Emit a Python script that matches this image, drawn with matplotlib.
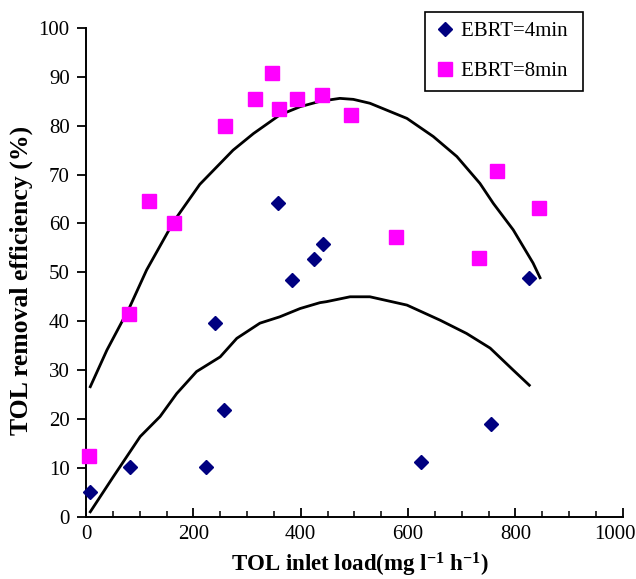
import matplotlib
matplotlib.use("Agg")
import matplotlib.pyplot as plt
from matplotlib.ticker import MultipleLocator
from matplotlib.transforms import ScaledTranslation

plt.rcParams['font.family'] = ['Liberation Serif', 'DejaVu Serif']
plt.rcParams['mathtext.fontset'] = 'custom'
plt.rcParams['mathtext.rm'] = 'Liberation Serif:bold'
plt.rcParams['mathtext.bf'] = 'Liberation Serif:bold'
plt.rcParams['mathtext.default'] = 'bf'

# --- data: EBRT = 4 min (diamonds) ---
load_4 = [8, 82, 224, 240, 257, 358, 383, 425, 441, 625, 754, 825]
eff_4 = [5.0, 10.2, 10.2, 39.7, 21.8, 64.2, 48.4, 52.7, 55.7, 11.1, 18.9, 48.8]

# --- data: EBRT = 8 min (squares) ---
load_8 = [6, 81, 118, 164, 259, 314, 347, 360, 394, 440, 494, 578, 732, 765, 844]
eff_8 = [12.4, 41.4, 64.6, 60.2, 80.0, 85.4, 90.7, 83.4, 85.4, 86.3, 82.1, 57.3, 53.0, 70.8, 63.1]

# --- trend curves ---
trend8_x = [8, 39, 81, 113, 164, 212, 274, 312, 361, 399, 436, 473, 498, 529,
            598, 647, 691, 734, 759, 796, 833, 846]
trend8_y = [26.6, 34.1, 42.8, 50.5, 60.5, 68.0, 75.0, 78.4, 82.2, 83.9, 85.0, 85.6,
            85.4, 84.6, 81.5, 77.8, 73.7, 68.2, 64.1, 58.7, 51.9, 48.9]
trend4_x = [8, 51, 101, 138, 169, 206, 250, 281, 324, 361, 399, 436, 448, 492,
            529, 598, 660, 709, 753, 796, 826]
trend4_y = [1.0, 8.2, 16.4, 20.5, 25.2, 29.7, 32.7, 36.5, 39.6, 40.9, 42.6, 43.8,
            44.0, 45.0, 45.0, 43.3, 40.2, 37.5, 34.5, 30.0, 26.9]

x_label = r'TOL inlet load(mg l$^{-1}$ h$^{-1}$)'
y_label = 'TOL removal efficiency (%)'
legend_labels = ['EBRT=4min ', 'EBRT=8min ']

fig = plt.figure(figsize=(6.36, 5.79), dpi=100)
ax = fig.add_axes([86/636, 1 - 516.7/579, (622.7 - 86)/636, (516.7 - 28)/579])

ax.plot(trend8_x, trend8_y, color='black', lw=2.0, zorder=2)
ax.plot(trend4_x, trend4_y, color='black', lw=2.0, zorder=2)

ax.plot(load_4, eff_4, linestyle='none', marker='D', ms=7.6, color='#000080',
        markeredgecolor='#000080', label=legend_labels[0], zorder=5, clip_on=False)
ax.plot(load_8, eff_8, linestyle='none', marker='s', ms=9.4, color='#FF00FF',
        markeredgecolor='#FF00FF', label=legend_labels[1], zorder=5, clip_on=False)

ax.set_xlim(0, 1000)
ax.set_ylim(0, 100)
ax.xaxis.set_major_locator(MultipleLocator(200))
ax.xaxis.set_minor_locator(MultipleLocator(50))
ax.yaxis.set_major_locator(MultipleLocator(10))

for s in ['top', 'right']:
    ax.spines[s].set_visible(False)
for s in ['left', 'bottom']:
    ax.spines[s].set_linewidth(1.4)
    ax.spines[s].set_color('black')

ax.tick_params(axis='y', direction='out', length=6.7, width=1.3, labelsize=15, pad=5)
ax.tick_params(axis='x', which='major', direction='in', length=6.5, width=1.3,
               labelsize=15, pad=6)
ax.tick_params(axis='x', which='minor', direction='in', length=4.5, width=1.1)

ax.set_xlabel(x_label, fontsize=16.5, fontweight='bold')
ax.set_ylabel(y_label, fontsize=18.5, fontweight='bold')
ax.xaxis.set_label_coords(0.5105, -0.069)
ax.yaxis.set_label_coords(-0.099, 0.483)

leg = ax.legend(loc='upper left', bbox_to_anchor=(425/636, 1 - 12/579),
                bbox_transform=fig.transFigure, prop={'size': 15},
                frameon=True, fancybox=False, framealpha=1, edgecolor='black',
                handlelength=1.0, handletextpad=0.3, borderpad=0.45,
                labelspacing=1.0, numpoints=1, borderaxespad=0)
leg.get_frame().set_linewidth(1.2)

# keep the last x tick label inside the figure, as in the reference
fig.canvas.draw()
for tick in ax.xaxis.get_major_ticks():
    if abs(tick.get_loc() - 1000) < 1e-6:
        lab = tick.label1
        lab.set_transform(lab.get_transform() +
                          ScaledTranslation(-8/100, 0, fig.dpi_scale_trans))

fig.savefig('out.png', dpi=100)
